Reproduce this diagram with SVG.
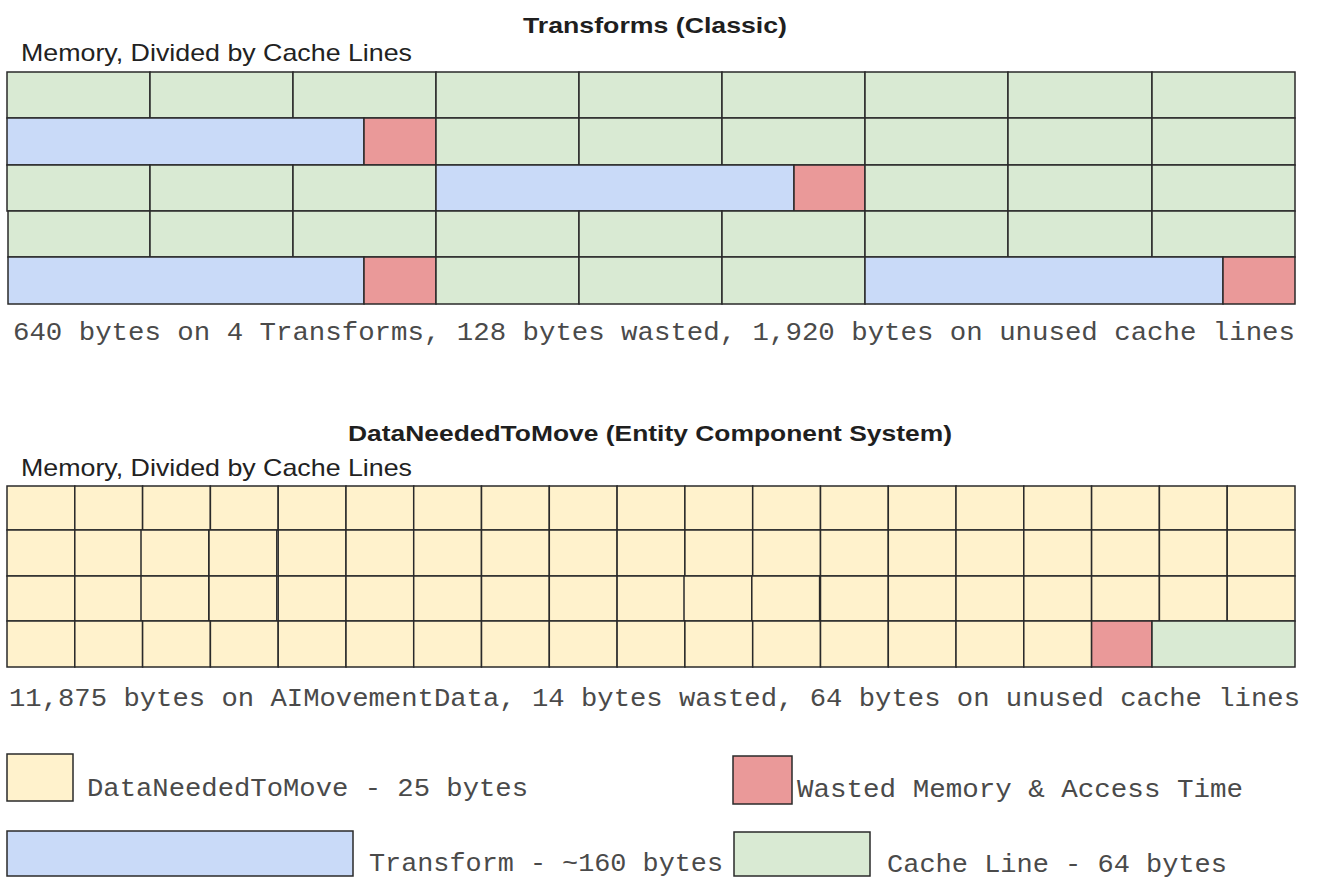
<svg xmlns="http://www.w3.org/2000/svg" xmlns:xlink="http://www.w3.org/1999/xlink" width="1317" height="878" viewBox="0 0 1317 878">
  <style>
    .title { font-family: "Liberation Sans", Arial, sans-serif; font-weight: bold; font-size: 22px; fill: #1f1f1f; }
    .label { font-family: "Liberation Sans", Arial, sans-serif; font-size: 24px; fill: #222; }
    .mono { font-family: "Liberation Mono", "Courier New", monospace; font-size: 25px; fill: #4a4a4a; }
    .cell { stroke: #2a2a2a; stroke-width: 1.5; }
    .line { fill: #d9ead3; }
    .xf { fill: #c9daf8; }
    .waste { fill: #ea9999; }
    .ecs { fill: #fff2cc; }
  </style>
  <defs>
    <rect id="e44" class="cell ecs" width="67.8" height="44"/>
    <rect id="e46" class="cell ecs" width="67.8" height="46"/>
    <rect id="e45" class="cell ecs" width="67.8" height="45"/>
  </defs>

  <!-- Classic transforms layout -->
  <g id="classic">
    <text class="title" x="523" y="33" textLength="264" lengthAdjust="spacingAndGlyphs">Transforms (Classic)</text>
    <text class="label" x="21" y="61" textLength="391" lengthAdjust="spacingAndGlyphs">Memory, Divided by Cache Lines</text>
    <g id="classic-grid">
      <!-- row 1 -->
      <rect class="cell line" x="7" y="72" width="143" height="46"/>
      <rect class="cell line" x="150" y="72" width="143" height="46"/>
      <rect class="cell line" x="293" y="72" width="143" height="46"/>
      <rect class="cell line" x="436" y="72" width="143" height="46"/>
      <rect class="cell line" x="579" y="72" width="143" height="46"/>
      <rect class="cell line" x="722" y="72" width="143" height="46"/>
      <rect class="cell line" x="865" y="72" width="143" height="46"/>
      <rect class="cell line" x="1008" y="72" width="144" height="46"/>
      <rect class="cell line" x="1152" y="72" width="143" height="46"/>
      <!-- row 2 -->
      <rect class="cell xf" x="7" y="118" width="357" height="47"/>
      <rect class="cell waste" x="364" y="118" width="72" height="47"/>
      <rect class="cell line" x="436" y="118" width="143" height="47"/>
      <rect class="cell line" x="579" y="118" width="143" height="47"/>
      <rect class="cell line" x="722" y="118" width="143" height="47"/>
      <rect class="cell line" x="865" y="118" width="143" height="47"/>
      <rect class="cell line" x="1008" y="118" width="144" height="47"/>
      <rect class="cell line" x="1152" y="118" width="143" height="47"/>
      <!-- row 3 -->
      <rect class="cell line" x="7" y="165" width="143" height="46"/>
      <rect class="cell line" x="150" y="165" width="143" height="46"/>
      <rect class="cell line" x="293" y="165" width="143" height="46"/>
      <rect class="cell xf" x="436" y="165" width="358" height="46"/>
      <rect class="cell waste" x="794" y="165" width="71" height="46"/>
      <rect class="cell line" x="865" y="165" width="143" height="46"/>
      <rect class="cell line" x="1008" y="165" width="144" height="46"/>
      <rect class="cell line" x="1152" y="165" width="143" height="46"/>
      <!-- row 4 -->
      <rect class="cell line" x="8" y="211" width="142" height="46"/>
      <rect class="cell line" x="150" y="211" width="143" height="46"/>
      <rect class="cell line" x="293" y="211" width="143" height="46"/>
      <rect class="cell line" x="436" y="211" width="143" height="46"/>
      <rect class="cell line" x="579" y="211" width="143" height="46"/>
      <rect class="cell line" x="722" y="211" width="143" height="46"/>
      <rect class="cell line" x="865" y="211" width="143" height="46"/>
      <rect class="cell line" x="1008" y="211" width="144" height="46"/>
      <rect class="cell line" x="1152" y="211" width="143" height="46"/>
      <!-- row 5 -->
      <rect class="cell xf" x="8" y="257" width="356" height="47"/>
      <rect class="cell waste" x="364" y="257" width="72" height="47"/>
      <rect class="cell line" x="436" y="257" width="143" height="47"/>
      <rect class="cell line" x="579" y="257" width="143" height="47"/>
      <rect class="cell line" x="722" y="257" width="143" height="47"/>
      <rect class="cell xf" x="865" y="257" width="358" height="47"/>
      <rect class="cell waste" x="1223" y="257" width="72" height="47"/>
    </g>
    <text class="mono" x="13" y="340" textLength="1282" lengthAdjust="spacingAndGlyphs">640 bytes on 4 Transforms, 128 bytes wasted, 1,920 bytes on unused cache lines</text>
  </g>

  <!-- ECS layout -->
  <g id="ecs">
    <text class="title" x="348" y="441" textLength="604" lengthAdjust="spacingAndGlyphs">DataNeededToMove (Entity Component System)</text>
    <text class="label" x="21" y="476" textLength="391" lengthAdjust="spacingAndGlyphs">Memory, Divided by Cache Lines</text>
    <g id="ecs-grid">
      <!-- row 1 -->
      <use xlink:href="#e44" x="7" y="486"/>
      <use xlink:href="#e44" x="74.8" y="486"/>
      <use xlink:href="#e44" x="142.6" y="486"/>
      <use xlink:href="#e44" x="210.4" y="486"/>
      <use xlink:href="#e44" x="278.2" y="486"/>
      <use xlink:href="#e44" x="346" y="486"/>
      <use xlink:href="#e44" x="413.7" y="486"/>
      <use xlink:href="#e44" x="481.5" y="486"/>
      <use xlink:href="#e44" x="549.3" y="486"/>
      <use xlink:href="#e44" x="617.1" y="486"/>
      <use xlink:href="#e44" x="684.9" y="486"/>
      <use xlink:href="#e44" x="752.7" y="486"/>
      <use xlink:href="#e44" x="820.5" y="486"/>
      <use xlink:href="#e44" x="888.3" y="486"/>
      <use xlink:href="#e44" x="956" y="486"/>
      <use xlink:href="#e44" x="1023.8" y="486"/>
      <use xlink:href="#e44" x="1091.6" y="486"/>
      <use xlink:href="#e44" x="1159.4" y="486"/>
      <use xlink:href="#e44" x="1227.2" y="486"/>
      <!-- row 2 -->
      <use xlink:href="#e46" x="7" y="530"/>
      <use xlink:href="#e46" x="74.8" y="530"/>
      <use xlink:href="#e46" x="141" y="530"/>
      <use xlink:href="#e46" x="209" y="530"/>
      <use xlink:href="#e46" x="278.2" y="530"/>
      <use xlink:href="#e46" x="346" y="530"/>
      <use xlink:href="#e46" x="413.7" y="530"/>
      <use xlink:href="#e46" x="481.5" y="530"/>
      <use xlink:href="#e46" x="549.3" y="530"/>
      <use xlink:href="#e46" x="617.1" y="530"/>
      <use xlink:href="#e46" x="684.9" y="530"/>
      <use xlink:href="#e46" x="752.7" y="530"/>
      <use xlink:href="#e46" x="820.5" y="530"/>
      <use xlink:href="#e46" x="888.3" y="530"/>
      <use xlink:href="#e46" x="956" y="530"/>
      <use xlink:href="#e46" x="1023.8" y="530"/>
      <use xlink:href="#e46" x="1091.6" y="530"/>
      <use xlink:href="#e46" x="1159.4" y="530"/>
      <use xlink:href="#e46" x="1227.2" y="530"/>
      <!-- row 3 -->
      <use xlink:href="#e45" x="7" y="576"/>
      <use xlink:href="#e45" x="74.8" y="576"/>
      <use xlink:href="#e45" x="141" y="576"/>
      <use xlink:href="#e45" x="209" y="576"/>
      <use xlink:href="#e45" x="278.2" y="576"/>
      <use xlink:href="#e45" x="346" y="576"/>
      <use xlink:href="#e45" x="413.7" y="576"/>
      <use xlink:href="#e45" x="481.5" y="576"/>
      <use xlink:href="#e45" x="549.3" y="576"/>
      <use xlink:href="#e45" x="617.1" y="576"/>
      <use xlink:href="#e45" x="684" y="576"/>
      <use xlink:href="#e45" x="751.8" y="576"/>
      <use xlink:href="#e45" x="820.5" y="576"/>
      <use xlink:href="#e45" x="888.3" y="576"/>
      <use xlink:href="#e45" x="956" y="576"/>
      <use xlink:href="#e45" x="1023.8" y="576"/>
      <use xlink:href="#e45" x="1091.6" y="576"/>
      <use xlink:href="#e45" x="1159.4" y="576"/>
      <use xlink:href="#e45" x="1227.2" y="576"/>
      <!-- row 4 -->
      <use xlink:href="#e46" x="7" y="621"/>
      <use xlink:href="#e46" x="74.8" y="621"/>
      <use xlink:href="#e46" x="142.6" y="621"/>
      <use xlink:href="#e46" x="210.4" y="621"/>
      <use xlink:href="#e46" x="278.2" y="621"/>
      <use xlink:href="#e46" x="346" y="621"/>
      <use xlink:href="#e46" x="413.7" y="621"/>
      <use xlink:href="#e46" x="481.5" y="621"/>
      <use xlink:href="#e46" x="549.3" y="621"/>
      <use xlink:href="#e46" x="617.1" y="621"/>
      <use xlink:href="#e46" x="684.9" y="621"/>
      <use xlink:href="#e46" x="752.7" y="621"/>
      <use xlink:href="#e46" x="820.5" y="621"/>
      <use xlink:href="#e46" x="888.3" y="621"/>
      <use xlink:href="#e46" x="956" y="621"/>
      <use xlink:href="#e46" x="1023.8" y="621"/>
      <rect class="cell waste" x="1091.6" y="621" width="60.4" height="46"/>
      <rect class="cell line" x="1152" y="621" width="143" height="46"/>
    </g>
    <text class="mono" x="9" y="706" textLength="1291" lengthAdjust="spacingAndGlyphs">11,875 bytes on AIMovementData, 14 bytes wasted, 64 bytes on unused cache lines</text>
  </g>

  <!-- Legend -->
  <g id="legend-data">
    <rect class="cell ecs" x="7" y="754" width="66" height="47"/>
    <text class="mono" x="87" y="796" textLength="441" lengthAdjust="spacingAndGlyphs">DataNeededToMove - 25 bytes</text>
  </g>
  <g id="legend-waste">
    <rect class="cell waste" x="733" y="756" width="59" height="48"/>
    <text class="mono" x="797" y="797" textLength="446" lengthAdjust="spacingAndGlyphs">Wasted Memory &amp; Access Time</text>
  </g>
  <g id="legend-transform">
    <rect class="cell xf" x="7" y="831" width="346" height="45"/>
    <text class="mono" x="369" y="871" textLength="354" lengthAdjust="spacingAndGlyphs">Transform - ~160 bytes</text>
  </g>
  <g id="legend-cacheline">
    <rect class="cell line" x="734" y="832" width="136" height="44"/>
    <text class="mono" x="887" y="872" textLength="340" lengthAdjust="spacingAndGlyphs">Cache Line - 64 bytes</text>
  </g>
</svg>
